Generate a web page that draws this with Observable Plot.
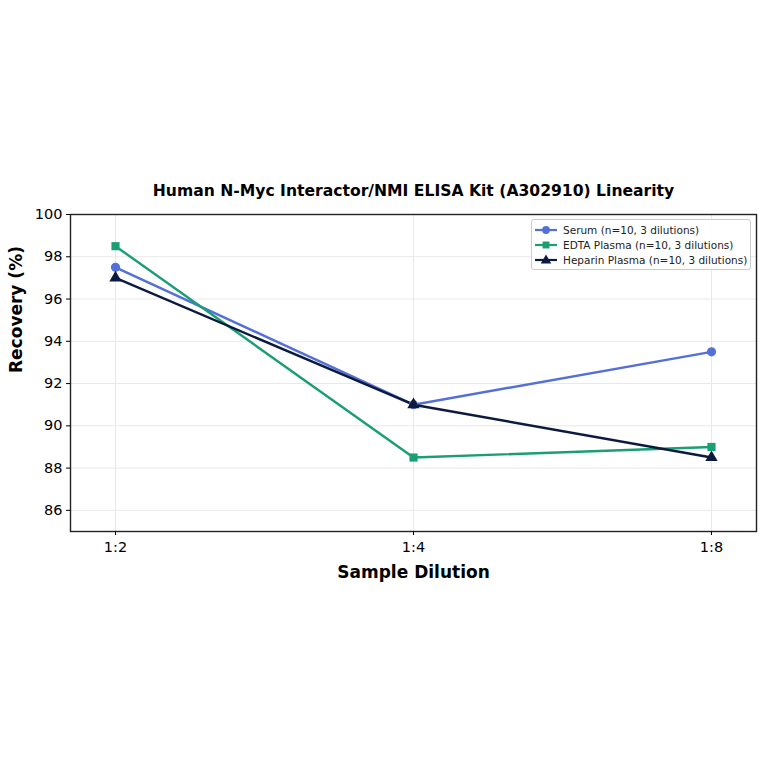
<!DOCTYPE html>
<html>
<head>
<meta charset="utf-8">
<script src="https://cdn.jsdelivr.net/npm/d3@7"></script>
<script src="https://cdn.jsdelivr.net/npm/@observablehq/plot@0.6"></script>
<style>
  html, body { margin: 0; padding: 0; background: #fff; }
  #wrap { position: relative; width: 764px; height: 764px; font-family: "DejaVu Sans", sans-serif; }
  #legend { position: absolute; left: 531px; top: 219px; border: 1px solid #ccc; border-radius: 3px; background: rgba(255,255,255,0.9); padding: 2px 3px 1px 2px; font-size: 10.5px; color: #222; }
  #legend .row { display: flex; align-items: center; height: 15.3px; white-space: nowrap; }
  #legend svg { margin-right: 5px; }
</style>
</head>
<body>
<div id="wrap"></div>
<script>
const dilutions = ["1:2", "1:4", "1:8"];
const seriesNames = ["Serum (n=10, 3 dilutions)", "EDTA Plasma (n=10, 3 dilutions)", "Heparin Plasma (n=10, 3 dilutions)"];
const serum = [97.5, 91.0, 93.5];
const edta = [98.5, 88.5, 89.0];
const heparin = [97.0, 91.0, 88.5];
const yTicks = [86, 88, 90, 92, 94, 96, 98, 100];
const colors = ["#5470d8", "#1a9e74", "#0c1a40"];
const symbols = ["circle", "square", "triangle"];
const titleText = "Human N-Myc Interactor/NMI ELISA Kit (A302910) Linearity";

const allValues = [serum, edta, heparin];
const data = [];
allValues.forEach((vals, s) => vals.forEach((v, i) => data.push({series: seriesNames[s], dilution: dilutions[i], value: v})));

const chart = Plot.plot({
  width: 764,
  height: 764,
  marginTop: 214,
  marginBottom: 233,
  marginLeft: 70,
  marginRight: 8,
  style: {fontFamily: "DejaVu Sans, sans-serif", fontSize: "14px", color: "#000", background: "#fff"},
  x: {type: "point", domain: dilutions, padding: 0.151, label: null},
  y: {domain: [85, 100], label: null},
  color: {domain: seriesNames, range: colors},
  symbol: {domain: seriesNames, range: symbols},
  marks: [
    Plot.gridY(yTicks, {stroke: "#e8e8e8", strokeOpacity: 1}),
    Plot.gridX(dilutions, {stroke: "#e8e8e8", strokeOpacity: 1}),
    Plot.line(data, {x: "dilution", y: "value", z: "series", stroke: "series", strokeWidth: 2.4}),
    Plot.dot(data, {x: "dilution", y: "value", fill: "series", symbol: "series", r: 4.6}),
    Plot.frame({stroke: "#222", strokeWidth: 1.4}),
    Plot.axisY(yTicks, {tickSize: 4, tickPadding: 4, fontSize: 14.5, tickFormat: d => d}),
    Plot.axisX(dilutions, {tickSize: 4, tickPadding: 6, fontSize: 14.5}),
    Plot.text([titleText], {frameAnchor: "top", dy: -30, fontWeight: "bold", fontSize: 15.6, fill: "#000"}),
    Plot.text(["Sample Dilution"], {frameAnchor: "bottom", dy: 46, fontWeight: "bold", fontSize: 17, fill: "#000"}),
    Plot.text(["Recovery (%)"], {frameAnchor: "left", dx: -54, rotate: -90, fontWeight: "bold", fontSize: 17, fill: "#000"})
  ]
});
document.getElementById("wrap").appendChild(chart);

// Legend
const legend = document.createElement("div");
legend.id = "legend";
seriesNames.forEach((name, i) => {
  const row = document.createElement("div");
  row.className = "row";
  const sym = d3.symbol(i === 0 ? d3.symbolCircle : i === 1 ? d3.symbolSquare : d3.symbolTriangle, 48)();
  row.innerHTML = `<svg width="24" height="12"><line x1="1" x2="23" y1="6" y2="6" stroke="${colors[i]}" stroke-width="2.2"/><path d="${sym}" transform="translate(12,${i===2?6.5:6})" fill="${colors[i]}"/></svg><span>${name}</span>`;
  legend.appendChild(row);
});
document.getElementById("wrap").appendChild(legend);
</script>
</body>
</html>
